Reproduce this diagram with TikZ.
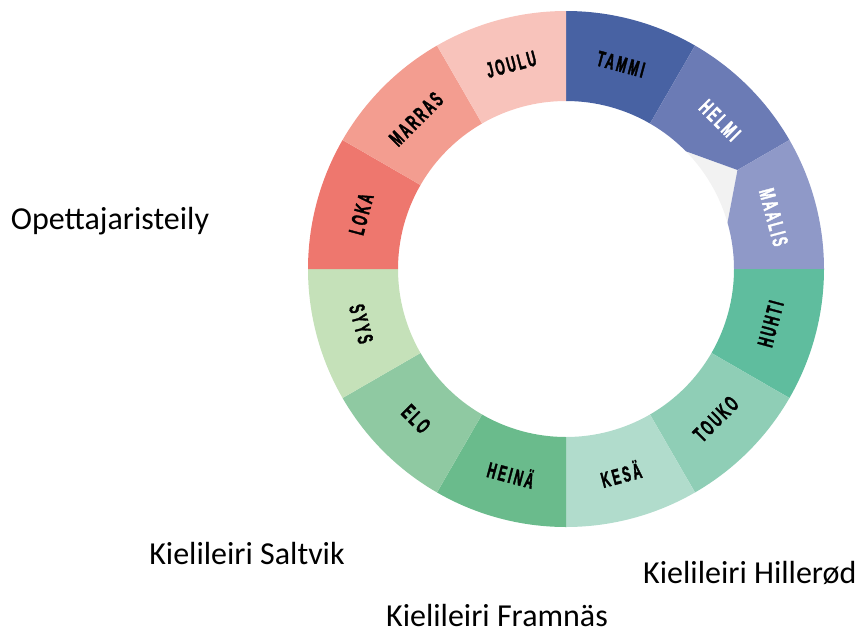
\documentclass[tikz,border=0pt]{standalone}
\usepackage{fontspec}
\setmainfont{Carlito}
\newfontfamily\monfont[FakeStretch=0.55,LetterSpace=11,FakeBold=1.5]{Liberation Sans}
\definecolor{cTAMMI}{HTML}{4862A3}
\definecolor{cHELMI}{HTML}{6B7BB5}
\definecolor{cMAALIS}{HTML}{8F99C8}
\definecolor{cHUHTI}{HTML}{5FBD9E}
\definecolor{cTOUKO}{HTML}{8FCEB6}
\definecolor{cKESA}{HTML}{B1DCCC}
\definecolor{cHEINA}{HTML}{6ABB8C}
\definecolor{cELO}{HTML}{8FC9A2}
\definecolor{cSYYS}{HTML}{C5E1B9}
\definecolor{cLOKA}{HTML}{EE776E}
\definecolor{cMARRAS}{HTML}{F39D90}
\definecolor{cJOULU}{HTML}{F8C3BB}
\definecolor{cGAP}{HTML}{F2F2F2}
\tikzset{
  month/.style={font=\monfont\bfseries\fontsize{22}{22}\selectfont, text=black, inner sep=0pt},
  monthw/.style={month, text=white},
  side/.style={font=\fontsize{32}{34}\selectfont, text=black, inner sep=0pt, anchor=base}
}
\newcommand{\ringseg}[3]{\fill[#1] (#2:258) arc[start angle=#2, end angle=#3, radius=258] -- (#3:168) arc[start angle=#3, end angle=#2, radius=168] -- cycle;}
\begin{document}
\begin{tikzpicture}[x=1pt,y=1pt]
\useasboundingbox (0,0) rectangle (857,-632);
\begin{scope}[shift={(566,-269)}]
  \fill[cGAP] (44.5:168) -- (30:198) -- (16:168) arc[start angle=16, end angle=44.5, radius=168] -- cycle;
  \ringseg{cTAMMI}{60}{90}
  \fill[cHELMI] (60:258) arc[start angle=60, end angle=30, radius=258] -- (30:198) -- (44.5:168) arc[start angle=44.5, end angle=60, radius=168] -- cycle;
  \fill[cMAALIS] (30:258) arc[start angle=30, end angle=0, radius=258] -- (0:168) arc[start angle=0, end angle=16, radius=168] -- (30:198) -- cycle;
  \ringseg{cHUHTI}{-30}{0}
  \ringseg{cTOUKO}{-60}{-30}
  \ringseg{cKESA}{-90}{-60}
  \ringseg{cHEINA}{-120}{-90}
  \ringseg{cELO}{-150}{-120}
  \ringseg{cSYYS}{-180}{-150}
  \ringseg{cLOKA}{150}{180}
  \ringseg{cMARRAS}{120}{150}
  \ringseg{cJOULU}{90}{120}
  \node[month, rotate=-15] (tammi) at (75:212) {TAMMI};
  \node[monthw, rotate=-45] (helmi) at (44:214) {HELMI};
  \node[monthw, rotate=-75] (maalis) at (14:214) {MAALIS};
  \node[month, rotate=75] (huhti) at (-15:212) {HUHTI};
  \node[month, rotate=45] (touko) at (-45:212) {TOUKO};
  \node[month, rotate=15] (kesa) at (-75:212) {KESÄ};
  \node[month, rotate=-15] (heina) at (-105:212) {HEINÄ};
  \node[month, rotate=-45] (elo) at (-135:212) {ELO};
  \node[month, rotate=-75] (syys) at (-165:212) {SYYS};
  \node[month, rotate=75] (loka) at (165:212) {LOKA};
  \node[month, rotate=45] (marras) at (135:212) {MARRAS};
  \node[month, rotate=15] (joulu) at (105:212) {JOULU};
\end{scope}
\node[side] (ope) at (110,-229) {Opettajaristeily};
\node[side] (salt) at (247,-564) {Kielileiri Saltvik};
\node[side, anchor=base west] (hill) at (643,-583) {Kielileiri Hillerød};
\node[side] (fram) at (497,-626) {Kielileiri Framnäs};
\end{tikzpicture}
\end{document}
